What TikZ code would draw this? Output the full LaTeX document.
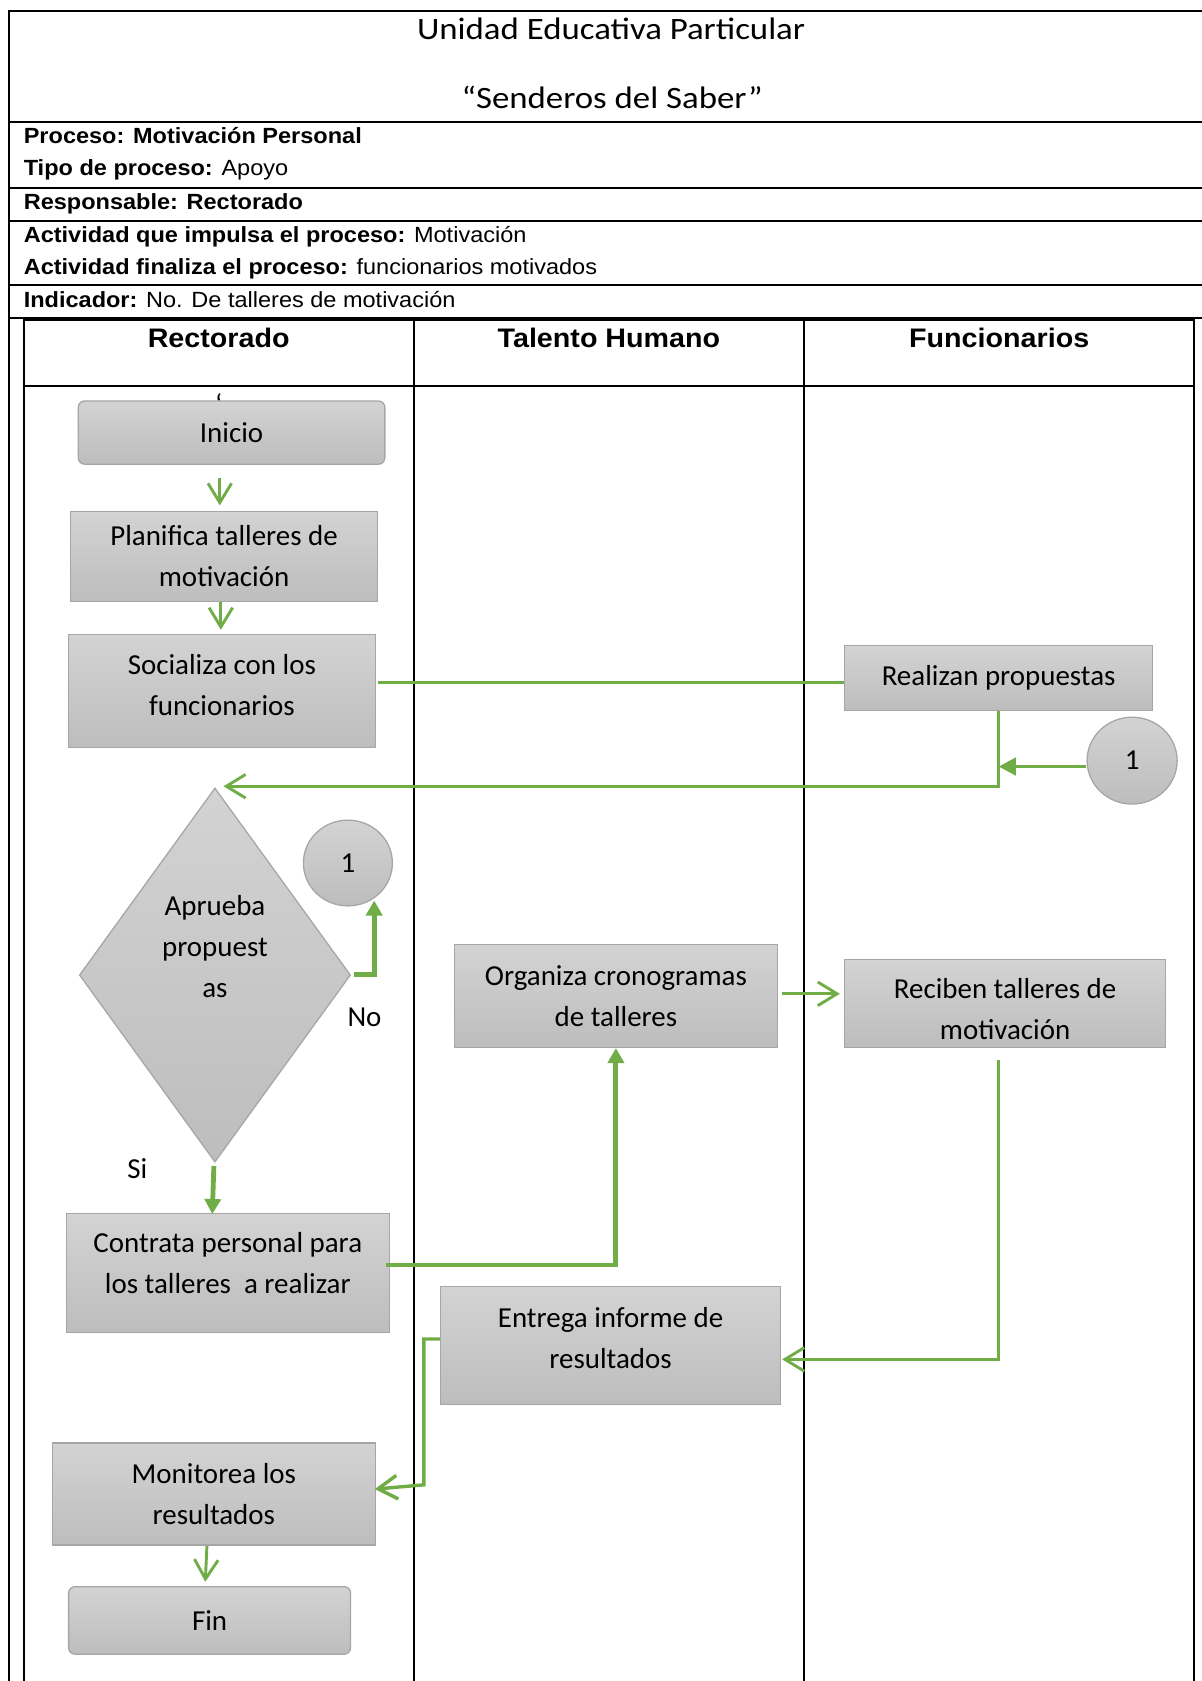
\documentclass[tikz,border=0pt]{standalone}
\usepackage{fontspec}
\setmainfont{Liberation Sans}[FakeStretch=1.07]
\newfontfamily\boxfont{Carlito}
\newfontfamily\titlefont{Carlito}[FakeStretch=1.12]
\usetikzlibrary{arrows.meta,shapes.geometric}

\definecolor{flowgreen}{RGB}{112,173,71}
\definecolor{boxtop}{RGB}{211,211,211}
\definecolor{boxbot}{RGB}{189,189,189}
\definecolor{boxedge}{RGB}{166,166,166}

\begin{document}
\begin{tikzpicture}[x=1pt,y=-1pt,
  rule/.style={line width=2pt, black},
  shaded/.style={draw=boxedge, line width=1.2pt, top color=boxtop, bottom color=boxbot, inner sep=0pt},
  boxtext/.style={align=center, inner sep=0pt, font=\boxfont\fontsize{27}{38}\selectfont},
  proc/.style={shaded, rectangle, boxtext},
  term/.style={proc, rounded corners=6pt},
  conn/.style={shaded, ellipse, boxtext},
  decbox/.style={shaded, diamond},
  info/.style={anchor=base west, inner sep=0pt, font=\fontsize{20.5}{24}\selectfont},
  lanehead/.style={anchor=base, inner sep=0pt, font=\bfseries\fontsize{25}{30}\selectfont},
  titletext/.style={anchor=base, inner sep=0pt, font=\titlefont\fontsize{29}{32}\selectfont},
  flow/.style={draw=flowgreen, line width=2.7pt, line join=miter},
  openarr/.style={flow, -{Straight Barb[length=18pt,width=22pt]}},
  bold/.style={draw=flowgreen, line width=4.5pt, line join=miter},
  fillarr/.style={bold, -{Triangle[length=14pt,width=15pt]}},
]
\useasboundingbox (0,0) rectangle (1121,1568);
\clip (0,0) rectangle (1121,1568);

% ---- header frame ----
\draw[rule] (8,1570) -- (8,10) -- (1121,10);
\foreach \yy in {114,175,206,266,297}
  \draw[rule] (8,\yy) -- (1121,\yy);

\node[titletext] (title1) at (570,37) {Unidad Educativa Particular};
\node[titletext] (title2) at (571,101) {“Senderos del Saber”};

\node[info] (proceso) at (22,134) {\textbf{Proceso: Motivación Personal}};
\node[info] (tipo) at (22,164) {\textbf{Tipo de proceso:} Apoyo};
\node[info] (resp) at (22,195) {\textbf{Responsable: Rectorado}};
\node[info] (impulsa) at (22,226) {\textbf{Actividad que impulsa el proceso:} Motivación};
\node[info] (finaliza) at (22,256) {\textbf{Actividad finaliza el proceso:} funcionarios motivados};
\node[info] (indicador) at (22,287) {\textbf{Indicador:} No. De talleres de motivación};

% ---- swimlanes ----
\draw[rule] (22,1570) -- (22,298) -- (1114,298) -- (1114,1570);
\draw[rule] (22,360) -- (1114,360);
\draw[rule] (386,298) -- (386,1570);
\draw[rule] (750,298) -- (750,1570);

\node[lanehead] (lane1) at (204,324) {Rectorado};
\node[lanehead] (lane2) at (568,324) {Talento Humano};
\node[lanehead] (lane3) at (932,324) {Funcionarios};

% ---- flow nodes ----
\node[boxtext, anchor=base] (mark) at (204,387) {‘};
\node[term, minimum width=286pt, minimum height=59pt] (inicio) at (216,403.5) {Inicio};
\node[proc, minimum width=286pt, minimum height=84pt] (planifica) at (209,519) {Planifica talleres de\\motivación};
\node[proc, minimum width=286pt, minimum height=105pt,
      label={[boxtext, yshift=5.5pt]center:{Socializa con los\\funcionarios}}] (socializa) at (207,644.5) {};
\node[proc, minimum width=287pt, minimum height=61pt] (realizan) at (931.5,632.5) {Realizan propuestas};
\node[conn, minimum width=84pt, minimum height=81pt] (c1r) at (1056,709.5) {1};

\node[decbox, minimum width=253pt, minimum height=349pt] (decision) at (200.5,909.5) {};
\node[boxtext] (decision-t) at (200.5,883) {Aprueba\\propuest\\as};
\node[conn, minimum width=83pt, minimum height=80pt] (c1l) at (324.5,805) {1};
\node[boxtext] (no) at (340,949) {No};
\node[boxtext] (si) at (128,1090) {Si};

\node[proc, minimum width=301pt, minimum height=96pt] (organiza) at (574.5,929) {Organiza cronogramas\\de talleres};
\node[proc, minimum width=299pt, minimum height=82pt,
      path picture={\node[boxtext] at ([yshift=-5pt]path picture bounding box.center) {Reciben talleres de\\motivación};}]
      (reciben) at (937.5,936) {};
\node[proc, minimum width=301pt, minimum height=111pt,
      label={[boxtext, yshift=9.5pt]center:{Contrata personal para\\los talleres\ \ a realizar}}] (contrata) at (212.5,1187.5) {};
\node[proc, minimum width=317pt, minimum height=110pt,
      label={[boxtext, yshift=7pt]center:{Entrega informe de\\resultados}}] (entrega) at (569.5,1255) {};
\node[proc, minimum width=301pt, minimum height=95pt] (monitorea) at (199.5,1393.5) {Monitorea los\\resultados};
\node[term, minimum width=263pt, minimum height=63pt] (fin) at (195.5,1511.5) {Fin};

% ---- connectors ----
\draw[openarr] ([shift={(-11,12)}]inicio.south) -- ([shift={(-4,-5)}]planifica.north);
\draw[openarr] ([shift={(-3,0)}]planifica.south) -- ([shift={(-1,-4)}]socializa.north);
\draw[flow] ([shift={(2,-7.5)}]socializa.east) -- ([shift={(0,4.5)}]realizan.west);
\draw[openarr] (realizan.south) |- ([shift={(8,-1)}]decision.north);
\draw[draw=flowgreen, line width=3.6pt, -{Triangle[length=16pt,width=16pt]}]
  ([shift={(0,5.5)}]c1r.west) -- ([shift={(0,5.5)}]c1r.west -| realizan.south);
\draw[fillarr] ([shift={(3,-0.5)}]decision.east) -| ([shift={(24.5,35)}]c1l.center);
\draw[fillarr] ([shift={(-1,3)}]decision.south) -- ([shift={(-14.5,1)}]contrata.north);
\draw[fillarr] ([shift={(-4,-7.5)}]contrata.east) -| (organiza.south);
\draw[openarr] ([shift={(4,-2)}]organiza.east) -- ([shift={(-4,-9)}]reciben.west);
\draw[openarr] ([shift={(-6.5,11)}]reciben.south) |- ([shift={(1,13)}]entrega.east);
\draw[openarr, line width=3.2pt] ([shift={(0,-6)}]entrega.west) -- ++(-15,0) -- ++(0,136)
  -- ([shift={(-1,-4.5)}]monitorea.east);
\draw[openarr] ([shift={(-6.5,0.5)}]monitorea.south) -- ([shift={(-4,-4)}]fin.north);
\end{tikzpicture}
\end{document}
